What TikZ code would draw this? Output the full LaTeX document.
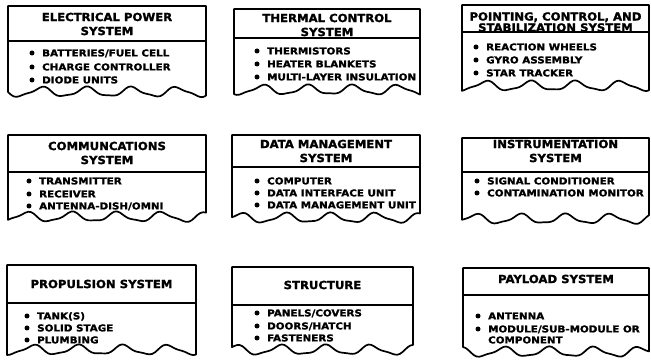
\documentclass[tikz,border=0pt]{standalone}
\usepackage{fontspec}
\setmainfont{DejaVu Sans}[BoldFeatures={FakeBold=1.6}]
\newfontfamily\ttlfont{DejaVu Sans Bold}[FakeBold=1.6, FakeStretch=1.04]
\newfontfamily\itmfont{DejaVu Sans Bold}[FakeBold=1.6, FakeStretch=1.1]
\tikzset{
  boxline/.style={line width=1.7pt, line join=round},
  divline/.style={line width=1.2pt},
  ttl/.style={font=\ttlfont\fontsize{11.2}{14}\selectfont, align=center, inner sep=0pt},
  itm/.style={font=\itmfont\fontsize{9.4}{11}\selectfont, anchor=west, inner sep=0pt, text height=6.8pt, text depth=0pt},
  bul/.style={circle, fill, inner sep=0pt, minimum size=5pt},
}
% #1 name, #2 x0, #3 y0, #4 x1, #5 ydiv, #6 ybot, #7 phase, #8 title y, #9 title
\newcommand{\sysbox}[9]{%
  \draw[boxline] (#4,#3) -- (#2,#3) -- (#2,#6) --
    plot[smooth, domain=#2:#4, samples=70] (\x, {#6+6+4.5*sin(8*(\x-#2)+#7)+1.2*sin(17*(\x-#2)+2*#7)}) -- cycle;
  \draw[divline] (#2,#5) -- (#4,#5);
  \node[ttl] (#1) at ({(#2+#4)/2},#8) {#9};
}
% #1 name, #2 bullet x, #3 y, #4 text
\newcommand{\sysitem}[4]{%
  \node[bul] (#1b) at (#2,#3) {};
  \node[itm] (#1) at (#2+10,#3) {#4};
}
\begin{document}
\begin{tikzpicture}[x=1pt, y=-1pt]
\useasboundingbox (0,0) rectangle (651,363);
\fill[white] (0,0) rectangle (651,363);

% Row 1
\sysbox{eps}{8}{6}{206}{41}{86}{0}{24}{ELECTRICAL POWER\\SYSTEM}
\sysitem{eps1}{32}{53}{BATTERIES/FUEL CELL}
\sysitem{eps2}{32}{67}{CHARGE CONTROLLER}
\sysitem{eps3}{32}{80}{DIODE UNITS}

\sysbox{tcs}{234}{9}{420}{38}{84}{40}{25}{THERMAL CONTROL\\SYSTEM}
\sysitem{tcs1}{257}{51}{THERMISTORS}
\sysitem{tcs2}{257}{64}{HEATER BLANKETS}
\sysitem{tcs3}{257}{77}{MULTI-LAYER INSULATION}

\sysbox{pcs}{462}{5}{649}{32}{80}{80}{22}{POINTING, CONTROL, AND\\[-3pt]STABILIZATION SYSTEM}
\sysitem{pcs1}{476}{47}{REACTION WHEELS}
\sysitem{pcs2}{476}{60}{GYRO ASSEMBLY}
\sysitem{pcs3}{476}{73}{STAR TRACKER}

% Row 2
\sysbox{com}{8}{135}{206}{172}{211}{120}{153}{COMMUNCATIONS\\SYSTEM}
\sysitem{com1}{29}{181}{TRANSMITTER}
\sysitem{com2}{29}{194}{RECEIVER}
\sysitem{com3}{29}{206}{ANTENNA-DISH/OMNI}

\sysbox{dms}{232}{135}{420}{167}{212}{200}{151}{DATA MANAGEMENT\\SYSTEM}
\sysitem{dms1}{257}{181}{COMPUTER}
\sysitem{dms2}{257}{193}{DATA INTERFACE UNIT}
\sysitem{dms3}{257}{205}{DATA MANAGEMENT UNIT}

\sysbox{ins}{462}{138}{649}{172}{213}{160}{151}{INSTRUMENTATION\\SYSTEM}
\sysitem{ins1}{477}{181}{SIGNAL CONDITIONER}
\sysitem{ins2}{477}{193}{CONTAMINATION MONITOR}

% Row 3
\sysbox{pro}{7}{265}{196}{303}{344}{60}{284}{PROPULSION SYSTEM}
\sysitem{pro1}{27}{316}{TANK(S)}
\sysitem{pro2}{27}{328}{SOLID STAGE}
\sysitem{pro3}{27}{340}{PLUMBING}

\sysbox{str}{232}{267}{413}{305}{344}{240}{285}{STRUCTURE}
\sysitem{str1}{257}{313}{PANELS/COVERS}
\sysitem{str2}{257}{326}{DOORS/HATCH}
\sysitem{str3}{257}{338}{FASTENERS}

\sysbox{pay}{463}{268}{649}{295}{346}{300}{279}{PAYLOAD SYSTEM}
\sysitem{pay1}{478}{316}{ANTENNA}
\sysitem{pay2}{478}{329}{MODULE/SUB-MODULE OR}
\node[itm] (pay2b) at (488,340) {COMPONENT};
\end{tikzpicture}
\end{document}
